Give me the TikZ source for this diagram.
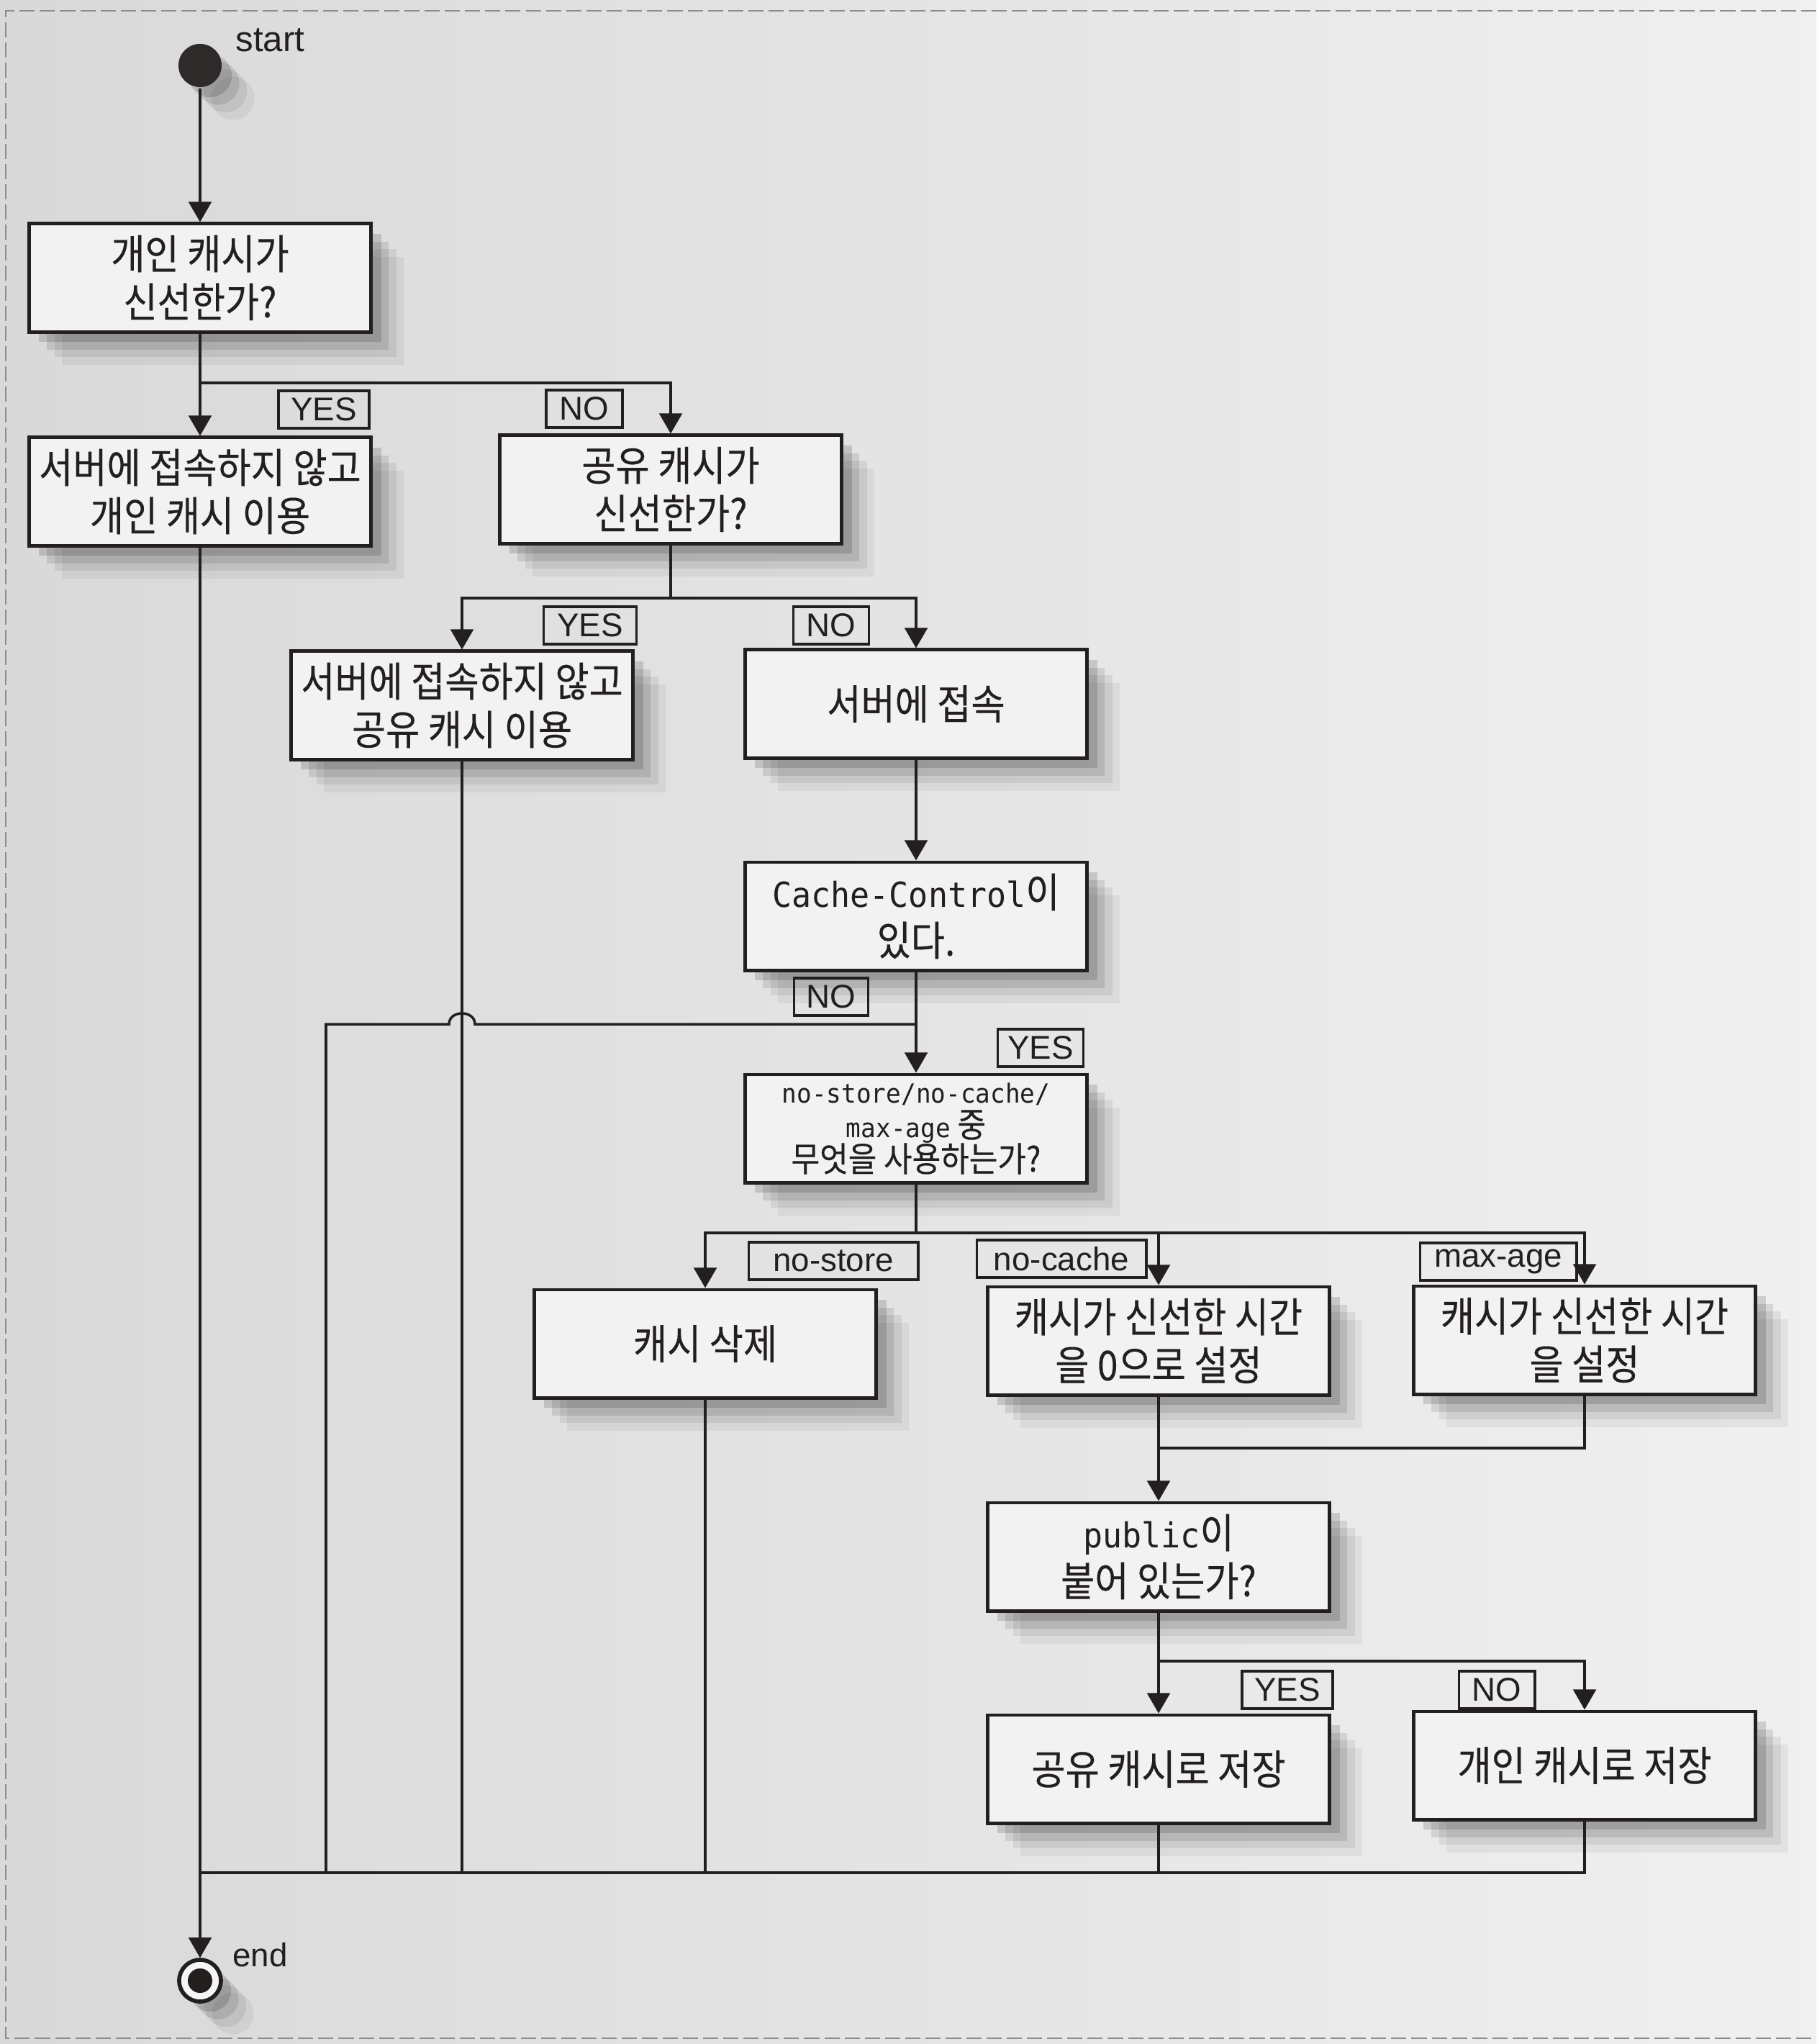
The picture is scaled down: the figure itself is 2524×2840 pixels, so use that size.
\documentclass[tikz,border=0pt]{standalone}
\usepackage{fontspec}
\setmainfont{Noto Sans CJK KR}[FakeStretch=0.9,FakeBold=0.3]
\newfontfamily\monofont{DejaVu Sans Mono}[FakeStretch=0.94]
\newfontfamily\labfont{Liberation Sans}
\usepackage{tikz}
\usetikzlibrary{arrows.meta,shadows}
\definecolor{ink}{HTML}{231F1E}
\newcommand{\code}[2][13.6]{{\monofont\fontsize{#1}{19}\selectfont #2}}

\begin{document}
\begin{tikzpicture}[x=0.01cm,y=-0.01cm,>={Triangle[width=9pt,length=8pt]},
  font=\fontsize{16.2}{19}\selectfont,color=ink,line width=1pt,
  shd/.style={drop shadow={shadow xshift=13pt,shadow yshift=-13pt,opacity=.05,fill=black},
    drop shadow={shadow xshift=10pt,shadow yshift=-10pt,opacity=.07,fill=black},
    drop shadow={shadow xshift=7pt,shadow yshift=-7pt,opacity=.1,fill=black},
    drop shadow={shadow xshift=4pt,shadow yshift=-4pt,opacity=.14,fill=black}},
  box/.style={shd,draw=ink,line width=1.4pt,fill=black!5,minimum width=4.75cm,
    minimum height=1.5cm,align=center,inner sep=2pt},
  lab/.style={draw=ink,line width=1.1pt,minimum height=0.52cm,inner sep=1pt,
    font=\labfont\fontsize{13}{14}\selectfont}]
  \useasboundingbox (0,0) rectangle (2524,2840);
  % page
  \shade[left color=black!15,right color=black!6] (0,0) rectangle (2524,2840);
  \draw[black!45,line width=0.6pt,dash pattern=on 6pt off 2pt] (2524,15) -- (8,15) -- (8,2832) -- (2524,2832);
  % start
  \node[shd,circle,fill=ink!95,minimum size=0.6cm,inner sep=0pt] (start) at (278,91) {};
  \node[anchor=base west,font=\labfont\fontsize{14}{16}\selectfont] (startlbl) at (314,72) {start};
  % boxes
  \node[box] (q1) at (278,386) {개인 캐시가\\신선한가?};
  \node[box] (use1) at (278,683) {서버에 접속하지 않고\\개인 캐시 이용};
  \node[box] (q2) at (932,680) {공유 캐시가\\신선한가?};
  \node[box] (use2) at (642,980) {서버에 접속하지 않고\\공유 캐시 이용};
  \node[box] (srv) at (1273,978) {서버에 접속};
  \node[box] (cc) at (1273,1273) {\code{Cache-Control}이\\있다.};
  \node[box,font=\fontsize{13.6}{13.6}\selectfont] (which) at (1273,1568)
    {\code[10.4]{no-store/no-cache/}\\\code[10.4]{max-age} 중\\무엇을 사용하는가?};
  \node[box] (del) at (980,1867) {캐시 삭제};
  \node[box] (zero) at (1610,1863) {캐시가 신선한 시간\\을 0으로 설정};
  \node[box] (age) at (2202,1862) {캐시가 신선한 시간\\을 설정};
  \node[box] (pub) at (1610,2163) {\code{public}이\\붙어 있는가?};
  \node[box] (shared) at (1610,2458) {공유 캐시로 저장};
  \node[box] (priv) at (2202,2453) {개인 캐시로 저장};
  % end
  \node[shd,circle,draw=ink,line width=1.6pt,fill=black!4,minimum size=0.58cm,inner sep=0pt] (fin) at (278,2752) {};
  \node[circle,fill=ink,minimum size=0.34cm,inner sep=0pt] (findot) at (fin) {};
  \node[anchor=base west,font=\labfont\fontsize{13}{16}\selectfont] (finlbl) at (310,2732) {end};
  % private cache
  \draw[->] (start) -- (q1);
  \coordinate (j1) at (278,532);
  \draw (q1) -- (j1);
  \draw[->] (j1) -- (use1);
  \draw[->] (j1) -| (q2);
  % shared cache
  \coordinate (j2) at (932,831);
  \draw (q2) -- (j2);
  \draw[->] (j2) -| (use2);
  \draw[->] (j2) -| (srv);
  \draw[->] (srv) -- (cc);
  \draw[->] (cc) -- (which);
  % no Cache-Control: hop over the line of use2
  \coordinate (j3) at (1273,1423);
  \coordinate (hopR) at (660,1423);
  \coordinate (hopL) at (624,1423);
  \coordinate (j4) at (453,1423);
  \coordinate (bot) at (278,2602);
  \draw (j3) -- (hopR) .. controls +(0,-20) and +(0,-20) .. (hopL) -- (j4) -- (j4 |- bot);
  % directives
  \coordinate (j5) at (1273,1713);
  \draw (which) -- (j5);
  \draw[->] (j5) -| (del);
  \draw[->] (j5) -| (zero);
  \draw[->] (j5) -| (age);
  \draw[->] (zero) -- (pub);
  \coordinate (j6) at (1610,2012);
  \draw (age) |- (j6);
  \coordinate (j7) at (1610,2308);
  \draw (pub) -- (j7);
  \draw[->] (j7) -- (shared);
  \draw[->] (j7) -| (priv);
  % to the end
  \draw (priv) |- (bot);
  \foreach \n in {shared,del,use2} \draw (\n) -- (\n |- bot);
  \draw[->] (use1) -- (fin);
  % labels
  \node[lab,minimum width=1.26cm] (y1) at (450,569) {YES};
  \node[lab,minimum width=1.06cm] (n1) at (812,568) {NO};
  \node[lab,minimum width=1.29cm] (y2) at (820,869) {YES};
  \node[lab,minimum width=1.05cm] (n2) at (1155,869) {NO};
  \node[lab,minimum width=1.03cm] (n3) at (1155,1385) {NO};
  \node[lab,minimum width=1.19cm] (y3) at (1446,1456) {YES};
  \node[lab,minimum width=2.35cm] (lstore) at (1158,1752) {no-store};
  \node[lab,minimum width=2.35cm] (lcache) at (1475,1749) {no-cache};
  \node[lab,minimum width=2.17cm] (lage) at (2082,1753) {max-age};
  \node[lab,minimum width=1.26cm] (y4) at (1789,2348) {YES};
  \node[lab,minimum width=1.05cm] (n4) at (2080,2348) {NO};
\end{tikzpicture}
\end{document}
